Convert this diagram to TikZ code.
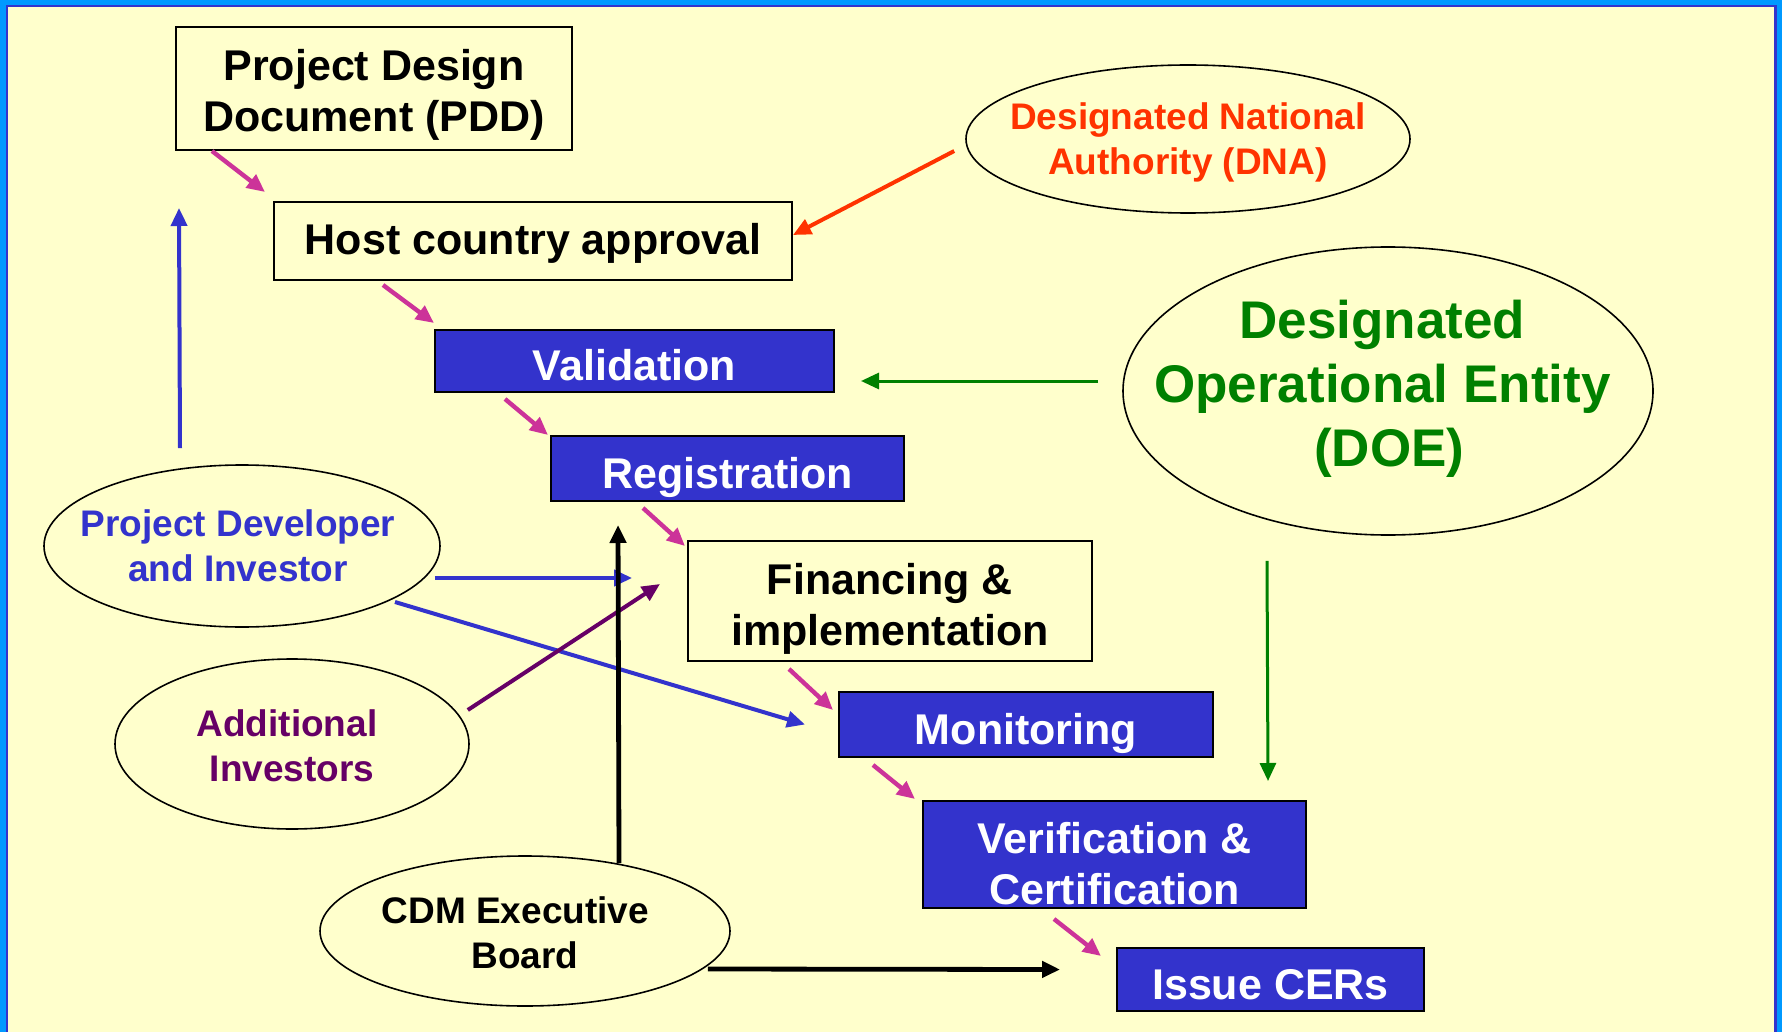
\documentclass[tikz,border=0pt]{standalone}
\usepackage{fontspec}
\setmainfont{Liberation Sans}
\usetikzlibrary{shapes.geometric,arrows.meta,calc}
\definecolor{paper}{HTML}{FFFFCC}
\definecolor{framebright}{HTML}{0099FF}
\definecolor{cdmblue}{HTML}{3333CC}
\definecolor{flowpink}{HTML}{CC3399}
\definecolor{dnared}{HTML}{FF3300}
\definecolor{doegreen}{HTML}{008000}
\definecolor{invpurple}{HTML}{660066}
\newcommand{\boxfont}{\bfseries\fontsize{21.5}{25.5}\selectfont}
\newcommand{\ovalfont}{\bfseries\fontsize{18.5}{22.5}\selectfont}
\newcommand{\doefont}{\bfseries\fontsize{26.5}{32}\selectfont}
\tikzset{
  stepbox/.style={draw=black,line width=1pt,fill=paper,inner sep=0pt},
  bluebox/.style={stepbox,fill=cdmblue},
  boxtext/.style={align=center,font=\boxfont,inner sep=0pt},
  whitetext/.style={boxtext,text=white},
  oval/.style={ellipse,draw=black,line width=0.8pt,inner sep=0pt},
  ovaltext/.style={align=center,font=\ovalfont,inner sep=0pt},
  flow/.style={draw=flowpink,line width=2.2pt,-{Triangle[length=9pt,width=8pt]}},
  link/.style={line width=2pt,-{Triangle[length=9pt,width=8pt]}}
}
\begin{document}
\begin{tikzpicture}[x=0.5pt,y=-0.5pt]
\useasboundingbox (0,0) rectangle (1782,1032);
\fill[paper] (0,0) rectangle (1782,1032);
% frame
\fill[framebright] (0,0) rectangle (1782,5);
\fill[framebright] (0,0) rectangle (6,1032);
\fill[framebright] (1777,0) rectangle (1782,1032);
\fill[cdmblue] (6,5) rectangle (8,1032);
\fill[cdmblue] (8,5) rectangle (1774,7);
\fill[cdmblue] (1774,5) rectangle (1777,1032);
% steps
\node[stepbox,minimum width=198pt,minimum height=61.5pt,
  label={[boxtext,yshift=-3.1pt]center:Project Design\\Document (PDD)}] (pdd) at (374,88.5) {};
\node[stepbox,minimum width=259pt,minimum height=39pt,
  label={[boxtext,yshift=-1.1pt]center:Host country approval}] (host) at (533,241) {};
\node[bluebox,minimum width=199.5pt,minimum height=31pt,
  label={[whitetext,yshift=-2.3pt]center:Validation}] (valid) at (634.5,361) {};
\node[bluebox,minimum width=176.5pt,minimum height=32.5pt,
  label={[whitetext,yshift=-4.5pt]center:Registration}] (regist) at (727.5,468.5) {};
\node[stepbox,minimum width=202pt,minimum height=60pt,
  label={[boxtext,yshift=-3.9pt]center:Financing \&\\implementation}] (finance) at (890,601) {};
\node[bluebox,minimum width=187pt,minimum height=32.5pt,
  label={[whitetext,yshift=-4.5pt]center:Monitoring}] (monit) at (1026,724.5) {};
\node[bluebox,minimum width=191.5pt,minimum height=53.5pt,
  label={[whitetext,yshift=-4.5pt]center:Verification \&\\Certification}] (verif) at (1114.5,854.5) {};
\node[bluebox,minimum width=153.5pt,minimum height=31.5pt,
  label={[whitetext,yshift=-2.8pt]center:Issue CERs}] (issue) at (1270.5,979.5) {};
% actors
\node[oval,minimum width=222pt,minimum height=74pt,
  label={[ovaltext,text=dnared,yshift=-1.7pt]center:Designated National\\Authority (DNA)}] (dna) at (1188,139) {};
\node[oval,minimum width=265pt,minimum height=144pt,
  label={[ovaltext,font=\doefont,text=doegreen,xshift=-2.8pt,yshift=1pt]center:Designated\\Operational Entity\\\hspace*{6.8pt}(DOE)}] (doe) at (1388,391) {};
\node[oval,minimum width=198pt,minimum height=81pt,
  label={[ovaltext,text=cdmblue,xshift=-2pt]center:Project Developer\\and Investor}] (devel) at (242,546) {};
\node[oval,minimum width=177pt,minimum height=85pt,
  label={[ovaltext,text=invpurple,yshift=-1.1pt]center:Additional\hspace*{5pt}\\Investors}] (addinv) at (292,744) {};
\node[oval,minimum width=205pt,minimum height=75pt,
  label={[ovaltext,yshift=-1pt]center:CDM Executive\hspace*{9.6pt}\\Board}] (cdm) at (525,931) {};
% project cycle
\draw[flow] ($(pdd.south west)+(37,0)$) -- ($(host.north west)+(-8,-9)$);
\draw[flow] ($(host.south west)+(110,4)$) -- ($(valid.north west)+(0,-6)$);
\draw[flow] ($(valid.south west)+(71,6)$) -- ($(regist.north west)+(-2,0)$);
\draw[flow] ($(regist.south west)+(93,6)$) -- ($(finance.north west)+(-2,6)$);
\draw[flow] ($(finance.south west)+(102,7)$) -- ($(monit.north west)+(-5,19)$);
\draw[flow] ($(monit.south west)+(35,7)$) -- ($(verif.north west)+(-7,-1)$);
\draw[flow] ($(verif.south west)+(132,10)$) -- ($(issue.north west)+(-15,9)$);
% actors to steps
\draw[link,dnared] ($(dna.west)+(-11,12)$) -- ($(host.east)+(0,-6)$);
\draw[link,doegreen,line width=1.5pt] ($(doe.west)+(-24,-10)$) -- ($(valid.east)+(26,20)$);
\draw[link,doegreen,line width=1.5pt] ($(doe.south)+(-121,25)$) -- ($(verif.north east)+(-39,-19)$);
\draw[link,cdmblue] ($(devel.north)+(-62,-16)$) -- ($(pdd.south west)+(4,57)$);
\draw[link,cdmblue] ($(devel.east)+(-6,32)$) -- ($(finance.west)+(-55,-23)$);
\draw[link,cdmblue] ($(devel.center)+(153,56)$) -- ($(monit.west)+(-33,0)$);
\draw[link,invpurple] ($(addinv.east)+(-2,-34)$) -- ($(finance.west)+(-27,-17)$);
\draw[link,black,line width=2.4pt] ($(cdm.north)+(94,8)$) -- ($(regist.south west)+(68,23)$);
\draw[link,black,line width=2.4pt] ($(cdm.east)+(-23,38)$) -- ($(issue.west)+(-56,-10)$);
\end{tikzpicture}
\end{document}
